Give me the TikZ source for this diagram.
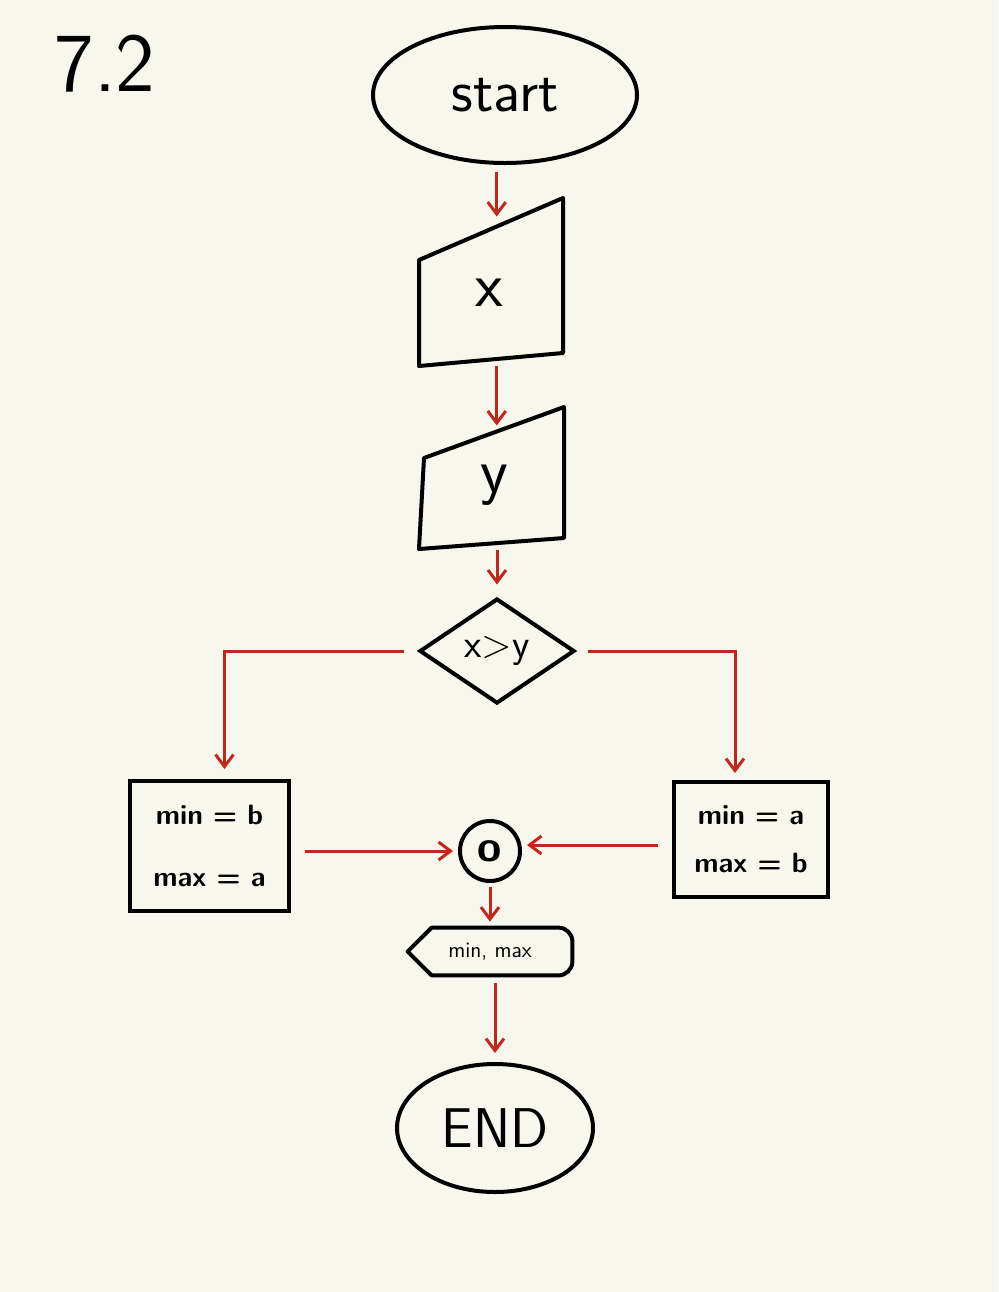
\documentclass[tikz,border=0pt]{standalone}
\usepackage{fontspec}
\usepackage{tikz}
\usetikzlibrary{arrows.meta,shapes.geometric,calc,positioning}
\definecolor{paper}{HTML}{F8F7ED}
\definecolor{arrred}{HTML}{C0281E}

\begin{document}
\begin{tikzpicture}
	[x=0.5pt, y=-0.5pt, font=\sffamily,
	% STYLES
	% The terminal style is used for start and end
	terminal/.style={ellipse, draw, line width=2pt, inner sep=0pt},
	% The outline style is used for the hand drawn input and output shapes
	outline/.style={draw, line width=2pt, line join=round},
	% The assign style is used for the two process boxes
	assign/.style={rectangle, draw, line width=2pt, align=center, inner sep=0pt, font=\bfseries\sffamily\fontsize{14}{17}\selectfont},
	% The arr style is used for the red links
	arr/.style={draw=arrred, line width=1.5pt, -{Straight Barb[length=6pt,width=9pt,line width=1.5pt]}}]
	% Background
	\fill[paper] (0,0) rectangle (998,1292);
	\useasboundingbox (0,0) rectangle (998,1292);
	% Title
	\node (title) at (105,64) {\fontsize{42}{50}\selectfont 7.2};
	% Draw nodes
	\node [terminal, minimum width=132pt, minimum height=68pt] (start) at (505,95) {\fontsize{30}{36}\selectfont start};
	% input x
	\coordinate (x-tl) at (419,260);
	\coordinate (x-tr) at (563,198);
	\coordinate (x-br) at (563,353);
	\coordinate (x-bl) at (419,366);
	\draw [outline] (x-tl) -- (x-tr) -- (x-br) -- (x-bl) -- cycle;
	\node (inx) at (489,293) {\fontsize{32}{38}\selectfont x};
	% input y
	\coordinate (y-tl) at (424,458);
	\coordinate (y-tr) at (564,407);
	\coordinate (y-br) at (564,538);
	\coordinate (y-bl) at (419,549);
	\draw [outline] (y-tl) -- (y-tr) -- (y-br) -- (y-bl) -- cycle;
	\node (iny) at (494,485) {\fontsize{32}{38}\selectfont y};
	% decision
	\node [diamond, draw, line width=2pt, inner sep=0pt, minimum width=77.5pt, minimum height=52.5pt] (cond) at (497,651) {\fontsize{20}{24}\selectfont x>y};
	% assignments
	\node [assign, minimum width=79.5pt, minimum height=65pt] (minb) at (209.5,846) {min = b\\[14pt]max = a};
	\node [assign, minimum width=77pt, minimum height=57.5pt] (mina) at (751,839.5) {min = a\\[7pt]max = b};
	% connector
	\node [circle, draw, line width=2pt, minimum size=30pt, inner sep=0pt] (conn) at (490,851) {\bfseries\fontsize{22}{24}\selectfont o};
	% output
	\node [minimum width=82pt, minimum height=23.5pt, inner sep=0pt] (disp) at (490,951.5) {\fontsize{11}{13}\selectfont min, max};
	\draw [outline, rounded corners=7pt] (disp.west) [sharp corners] -- ([xshift=12pt]disp.north west) [rounded corners=7pt] -- (disp.north east) -- (disp.south east) [sharp corners] -- ([xshift=12pt]disp.south west) -- cycle;
	% end
	\node [terminal, minimum width=98pt, minimum height=64pt] (end) at (495,1128) {\fontsize{28}{34}\selectfont END};
	%%%%%%%%%%%%%%%%
	% Draw the links
	\coordinate (x-top) at ($(x-tl)!0.54!(x-tr)$);
	\coordinate (x-bot) at ($(x-bl)!0.54!(x-br)$);
	\coordinate (y-top) at ($(y-tl)!0.52!(y-tr)$);
	\coordinate (y-bot) at ($(y-bl)!0.56!(y-br)$);
	\draw [arr, shorten <=3.5pt, shorten >=5pt] (x-top |- start.south) -- (x-top);
	\draw [arr, shorten <=3.5pt, shorten >=3pt] (x-bot) -- (x-bot |- y-top);
	\draw [arr, shorten <=3.5pt, shorten >=6pt] (cond.north |- y-bot) -- (cond.north);
	\draw [arr, shorten <=7pt, shorten >=5pt] (cond.west) -| ([xshift=7.5pt]minb.north);
	\draw [arr, shorten <=5.5pt, shorten >=3.5pt] (cond.east) -| ([xshift=-8pt]mina.north);
	\draw [arr, shorten <=7pt, shorten >=2.5pt] (minb.east |- conn) -- (conn);
	\draw [arr, shorten <=7pt, shorten >=2.5pt] ([yshift=3pt]mina.west |- conn) -- ([yshift=3pt]conn.east);
	\draw [arr, shorten <=2pt, shorten >=3pt] (conn) -- (conn |- disp.north);
	\draw [arr, shorten <=4pt, shorten >=4.5pt] (end.north |- disp.south) -- (end);
\end{tikzpicture}
\end{document}
